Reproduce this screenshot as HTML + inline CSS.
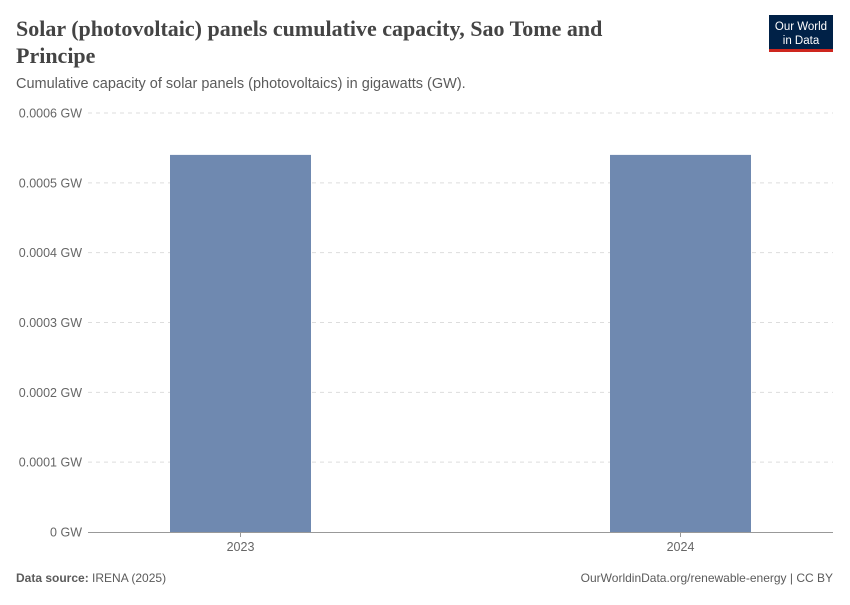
<!DOCTYPE html>
<html><head><meta charset="utf-8"><style>
body{margin:0;background:#fff;font-family:"Liberation Sans",sans-serif}
</style></head><body>
<svg width="850" height="600" xmlns="http://www.w3.org/2000/svg">
<text x="16" y="36" font-family="Liberation Serif,serif" font-size="22" font-weight="bold" fill="#444">Solar (photovoltaic) panels cumulative capacity, Sao Tome and</text>
<text x="16" y="63" font-family="Liberation Serif,serif" font-size="22" font-weight="bold" fill="#444">Principe</text>
<text x="16" y="88" font-size="14.5" fill="#5b5b5b">Cumulative capacity of solar panels (photovoltaics) in gigawatts (GW).</text>
<g>
<rect x="769" y="15" width="64" height="35" fill="#002147"/>
<rect x="769" y="49" width="64" height="3" fill="#ce261e"/>
<text x="801" y="30" text-anchor="middle" font-size="11.5" fill="#fff">Our World</text>
<text x="801" y="44" text-anchor="middle" font-size="11.5" fill="#fff">in Data</text>
</g>
<g id="grid"></g><g id="bars"></g><g id="xlab"></g>
<text x="16" y="582" font-size="12" fill="#5b5b5b"><tspan font-weight="bold">Data source:</tspan> IRENA (2025)</text>
<text x="833" y="582" text-anchor="end" font-size="12" fill="#5b5b5b">OurWorldinData.org/renewable-energy | CC BY</text>
</svg>
<script>
const categories=["2023","2024"];
const values=[0.00054,0.00054];
const yTicks=[0,0.0001,0.0002,0.0003,0.0004,0.0005,0.0006];
const yTickLabels=["0 GW","0.0001 GW","0.0002 GW","0.0003 GW","0.0004 GW","0.0005 GW","0.0006 GW"];
const NS="http://www.w3.org/2000/svg";
const x0=88,x1=833,yb=532,yt=113,ymax=0.0006;
const y=v=>yb-(v/ymax)*(yb-yt);
const firstC=240.5,lastC=680.5;
const xc=i=>categories.length>1?firstC+(lastC-firstC)*i/(categories.length-1):(x0+x1)/2;
const bw=141;
function mk(tag,attrs,parent){const e=document.createElementNS(NS,tag);for(const k in attrs)e.setAttribute(k,attrs[k]);parent.appendChild(e);return e;}
const grid=document.getElementById('grid');
yTicks.forEach((t,i)=>{
 const yy=y(t);
 if(t>0){const l=mk('line',{x1:x0,x2:x1,y1:yy,y2:yy,stroke:'#ddd','stroke-dasharray':'4,4'},grid);
 
 }
 const tx=mk('text',{x:82,y:yy+4.5,'text-anchor':'end','font-size':'12.5',fill:'#666'},grid);
 tx.textContent=yTickLabels[i];
 
 
});
const ax=mk('line',{x1:x0,x2:x1,y1:yb+0.5,y2:yb+0.5,stroke:'#999'},grid);


const bars=document.getElementById('bars'),xl=document.getElementById('xlab');
categories.forEach((c,i)=>{
 const r=mk('rect',{x:xc(i)-bw/2,y:y(values[i]),width:bw,height:yb-y(values[i]),fill:'#6f89b0'},bars);
 
 
 const tk=mk('line',{x1:xc(i),x2:xc(i),y1:yb,y2:yb+5,stroke:'#999'},xl);
 
 
 const t=mk('text',{x:xc(i),y:551,'text-anchor':'middle','font-size':'12.5',fill:'#666'},xl);
 t.textContent=c;
 
 
});
</script>
</body></html>
